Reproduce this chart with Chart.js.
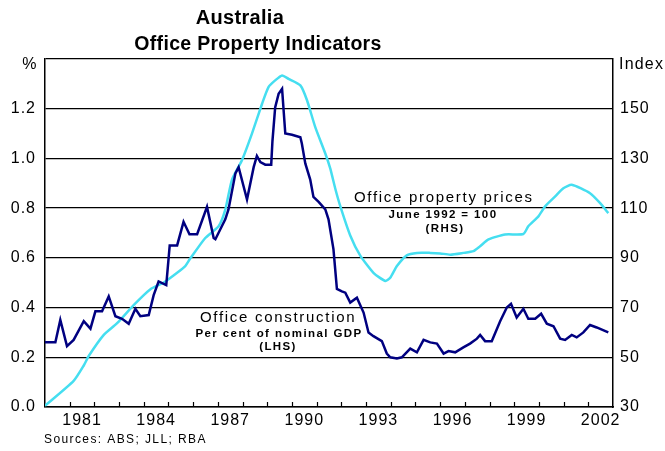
<!DOCTYPE html>
<html>
<head>
<meta charset="utf-8">
<script src="https://cdn.jsdelivr.net/npm/chart.js@4.4.1/dist/chart.umd.min.js"></script>
<style>
  html, body { margin: 0; padding: 0; background: #fff; }
  #wrap { width: 665px; height: 451px; position: relative; }
</style>
</head>
<body>
<div id="wrap"><canvas id="chart" width="665" height="451"></canvas></div>
<script>
// Office construction, per cent of nominal GDP (LHS)
const constructionYears = [1980.0, 1980.42, 1980.62, 1980.89, 1981.16, 1981.57, 1981.84, 1982.04, 1982.31, 1982.58,
  1982.85, 1983.12, 1983.39, 1983.66, 1983.86, 1984.2, 1984.4, 1984.6, 1984.91, 1985.05,
  1985.35, 1985.61, 1985.85, 1986.16, 1986.56, 1986.83, 1986.9, 1987.1, 1987.3, 1987.43,
  1987.71, 1987.84, 1988.18, 1988.45, 1988.58, 1988.72, 1988.92, 1989.16, 1989.21, 1989.32,
  1989.46, 1989.6, 1989.73, 1990.0, 1990.34, 1990.4, 1990.54, 1990.74, 1990.87, 1991.08,
  1991.35, 1991.48, 1991.68, 1991.82, 1992.02, 1992.16, 1992.36, 1992.63, 1992.9, 1993.1,
  1993.3, 1993.64, 1993.84, 1993.98, 1994.25, 1994.45, 1994.79, 1995.06, 1995.33, 1995.6,
  1995.87, 1996.14, 1996.34, 1996.61, 1996.94, 1997.21, 1997.49, 1997.62, 1997.82, 1998.09,
  1998.43, 1998.7, 1998.87, 1999.1, 1999.37, 1999.57, 1999.85, 2000.09, 2000.32, 2000.59,
  2000.86, 2001.06, 2001.33, 2001.53, 2001.8, 2002.07, 2002.34, 2002.81];
const constructionValues = [0.26, 0.26, 0.35, 0.245, 0.27, 0.345, 0.315, 0.385, 0.385, 0.445,
  0.365, 0.355, 0.335, 0.395, 0.365, 0.37, 0.45, 0.505, 0.49, 0.65,
  0.65, 0.745, 0.695, 0.695, 0.805, 0.68, 0.675, 0.715, 0.755, 0.795,
  0.94, 0.965, 0.835, 0.965, 1.01, 0.985, 0.975, 0.975, 1.07, 1.205,
  1.26, 1.28, 1.10, 1.095, 1.085, 1.06, 0.98, 0.915, 0.845, 0.825,
  0.795, 0.755, 0.635, 0.475, 0.465, 0.46, 0.42, 0.44, 0.38, 0.30,
  0.285, 0.265, 0.215, 0.20, 0.195, 0.20, 0.235, 0.22, 0.27, 0.26,
  0.255, 0.215, 0.225, 0.22, 0.24, 0.255, 0.275, 0.29, 0.265, 0.265,
  0.345, 0.40, 0.415, 0.36, 0.395, 0.355, 0.355, 0.375, 0.335, 0.325,
  0.275, 0.27, 0.29, 0.28, 0.30, 0.33, 0.32, 0.30];

// Office property prices, June 1992 = 100 (RHS)
const priceYears = [1980.0, 1981.16, 1981.57, 1981.77, 1982.38, 1982.92, 1983.59, 1984.27, 1984.8, 1985.35,
  1985.68, 1985.86, 1986.49, 1987.03, 1987.3, 1987.57, 1987.98, 1988.38, 1988.79, 1989.05,
  1989.32, 1989.6, 1989.86, 1990.34, 1990.61, 1990.94, 1991.35, 1991.55, 1991.75, 1991.95,
  1992.36, 1992.76, 1993.3, 1993.78, 1993.98, 1994.25, 1994.65, 1995.06, 1995.6, 1996.0,
  1996.41, 1996.94, 1997.35, 1997.62, 1997.96, 1998.63, 1999.37, 1999.57, 1999.98, 2000.25,
  2000.66, 2000.99, 2001.33, 2002.07, 2002.48, 2002.81];
const priceValues = [30.5, 40.5, 46.7, 50.5, 59, 63.7, 71, 77.4, 80, 84,
  86.7, 89.4, 98, 102.7, 109.4, 121.4, 129.4, 140, 152, 158.7,
  161.4, 163.4, 162, 159.4, 153.4, 142.7, 132, 126, 118, 111,
  99, 91, 84, 80.7, 82, 86.7, 91, 92, 92, 91.8,
  91.3, 92, 92.7, 94.7, 97.4, 99.4, 99.6, 102.7, 106.7, 110.7,
  114.7, 118, 119.4, 116, 112, 108];

const xLabelYears = [1981, 1984, 1987, 1990, 1993, 1996, 1999, 2002];
const leftTicks = [0, 0.2, 0.4, 0.6, 0.8, 1.0, 1.2, 1.4];
const rightTicks = [30, 50, 70, 90, 110, 130, 150, 170];

const FONT = '"Liberation Sans", Arial, sans-serif';

function spaced(ctx, px) {
  if ('letterSpacing' in ctx) ctx.letterSpacing = px + 'px';
}

// titles, series notes, axis units and inner year ticks
const decorations = {
  id: 'decorations',
  beforeDraw(chart) {
    spaced(chart.ctx, 1);
  },
  afterDraw(chart) {
    const ctx = chart.ctx;
    const x = chart.scales.x;
    const area = chart.chartArea;
    ctx.save();
    ctx.strokeStyle = '#000';
    ctx.lineWidth = 1.2;
    for (let yr = 1981; yr <= 2002; yr++) {
      const px = Math.round(x.getPixelForValue(yr)) + 0.5;
      ctx.beginPath();
      ctx.moveTo(px, area.bottom);
      ctx.lineTo(px, area.bottom - 5);
      ctx.stroke();
    }
    ctx.fillStyle = '#000';
    ctx.textBaseline = 'alphabetic';

    spaced(ctx, 0.3);
    ctx.textAlign = 'center';
    ctx.font = 'bold 20px ' + FONT;
    ctx.fillText('Australia', 240, 24);
    ctx.font = 'bold 19.5px ' + FONT;
    ctx.fillText('Office Property Indicators', 258, 50);

    spaced(ctx, 1.2);
    ctx.font = '16px ' + FONT;
    ctx.fillText('%', 30, 69);
    ctx.textAlign = 'left';
    ctx.fillText('Index', 619, 69);

    spaced(ctx, 1.7);
    ctx.font = '15px ' + FONT;
    ctx.fillText('Office property prices', 354, 202);
    ctx.fillText('Office construction', 200, 322);

    spaced(ctx, 1.4);
    ctx.textAlign = 'center';
    ctx.font = 'bold 11.5px ' + FONT;
    ctx.fillText('June 1992 = 100', 443, 218);
    ctx.fillText('(RHS)', 445, 232);
    ctx.fillText('Per cent of nominal GDP', 279, 337);
    ctx.fillText('(LHS)', 278, 350);

    ctx.textAlign = 'left';
    ctx.font = '12px ' + FONT;
    ctx.fillText('Sources: ABS; JLL; RBA', 44, 443);
    ctx.restore();
  }
};

const toPoints = (xs, ys) => xs.map((v, i) => ({ x: v, y: ys[i] }));

new Chart(document.getElementById('chart'), {
  type: 'line',
  data: {
    datasets: [
      {
        label: 'Office construction',
        data: toPoints(constructionYears, constructionValues),
        yAxisID: 'y',
        borderColor: '#000080',
        borderWidth: 2.5,
        pointRadius: 0,
        tension: 0
      },
      {
        label: 'Office property prices',
        data: toPoints(priceYears, priceValues),
        yAxisID: 'y1',
        borderColor: '#45def0',
        borderWidth: 2.5,
        pointRadius: 0,
        tension: 0.2
      }
    ]
  },
  options: {
    responsive: false,
    animation: false,
    layout: { padding: { top: 59, left: 0, right: 0, bottom: 0 } },
    plugins: {
      legend: { display: false },
      tooltip: { enabled: false },
      title: { display: false }
    },
    scales: {
      x: {
        type: 'linear',
        min: 1980,
        max: 2003,
        afterBuildTicks: s => { s.ticks = xLabelYears.map(v => ({ value: v + 0.5 })); },
        afterFit: s => { s.height = 44; },
        ticks: {
          autoSkip: false,
          maxRotation: 0,
          padding: 4,
          color: '#000',
          font: { family: FONT, size: 16 },
          callback: v => String(Math.floor(v))
        },
        grid: { drawOnChartArea: false, drawTicks: false },
        border: { color: '#000', width: 1.5 }
      },
      y: {
        position: 'left',
        min: 0,
        max: 1.4,
        afterBuildTicks: s => { s.ticks = leftTicks.map(v => ({ value: v })); },
        afterFit: s => { s.width = 45; },
        ticks: {
          padding: 9,
          color: '#000',
          font: { family: FONT, size: 16 },
          callback: v => v > 1.3 ? '' : v.toFixed(1)
        },
        grid: { color: '#000', lineWidth: 1.3, drawTicks: false },
        border: { color: '#000', width: 1.5 }
      },
      y1: {
        position: 'right',
        min: 30,
        max: 170,
        afterBuildTicks: s => { s.ticks = rightTicks.map(v => ({ value: v })); },
        afterFit: s => { s.width = 52; },
        ticks: {
          padding: 7,
          color: '#000',
          font: { family: FONT, size: 16 },
          callback: v => v === 170 ? '' : String(v)
        },
        grid: { drawOnChartArea: false, drawTicks: false },
        border: { color: '#000', width: 1.5 }
      }
    }
  },
  plugins: [decorations]
});
</script>
</body>
</html>
